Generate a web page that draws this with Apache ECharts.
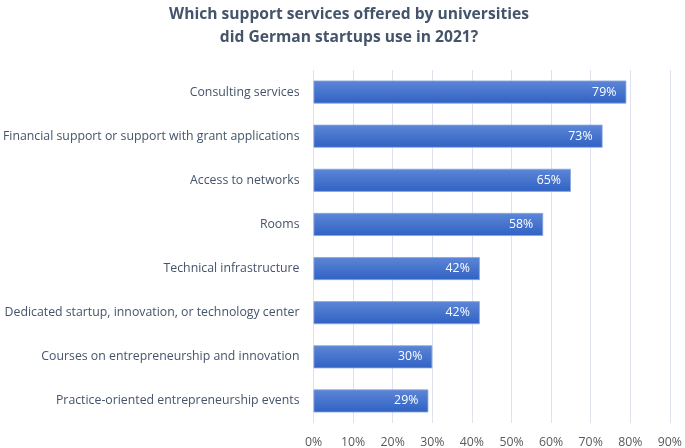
<!DOCTYPE html>
<html><head><meta charset="utf-8">
<script src="https://cdn.jsdelivr.net/npm/echarts@6/dist/echarts.min.js"></script>
<style>html,body{margin:0;padding:0;background:#fff}#c{width:685px;height:448px}</style>
</head><body><div id="c"></div>
<script>
const titleText = "Which support services offered by universities\ndid German startups use in 2021?";
const categories = [
  "Consulting services",
  "Financial support or support with grant applications",
  "Access to networks",
  "Rooms",
  "Technical infrastructure",
  "Dedicated startup, innovation, or technology center",
  "Courses on entrepreneurship and innovation",
  "Practice-oriented entrepreneurship events"
];
const values = [79, 73, 65, 58, 42, 42, 30, 29];
const xTicks = [0, 10, 20, 30, 40, 50, 60, 70, 80, 90];

const chart = echarts.init(document.getElementById('c'), null, {renderer: 'canvas'});
chart.setOption({
  animation: false,
  title: {
    text: titleText, left: 344, textAlign: 'center', top: -2,
    textStyle: {fontFamily: 'Open Sans', fontWeight: 'bold', fontSize: 15.6, color: '#44546a', lineHeight: 23}
  },
  grid: {left: 312, right: 11, top: 70, bottom: 23, containLabel: false},
  xAxis: {
    type: 'value', min: 0, max: 90, interval: 10,
    axisLine: {show: false}, axisTick: {show: false},
    splitLine: {show: true, lineStyle: {color: '#dde2ec', width: 1}},
    axisLabel: {formatter: v => v + '%', color: '#595959', fontFamily: 'Open Sans', fontSize: 12.3, margin: 13}
  },
  yAxis: {
    type: 'category', data: categories, inverse: true,
    axisLine: {show: false}, axisTick: {show: false},
    axisLabel: {color: '#44546a', fontFamily: 'Open Sans', fontSize: 12.3, margin: 14}
  },
  series: [{
    type: 'bar', data: values, barWidth: 23,
    itemStyle: {
      color: new echarts.graphic.LinearGradient(0, 0, 0, 1, [
        {offset: 0, color: '#5d86d6'}, {offset: 1, color: '#3062c4'}
      ]),
      borderColor: '#8aa6e0', borderWidth: 0.8
    },
    label: {show: true, position: 'insideRight', formatter: p => p.value + '%', color: '#ffffff',
      fontFamily: 'Open Sans', fontSize: 12.3, distance: 10}
  }]
});
</script></body></html>
